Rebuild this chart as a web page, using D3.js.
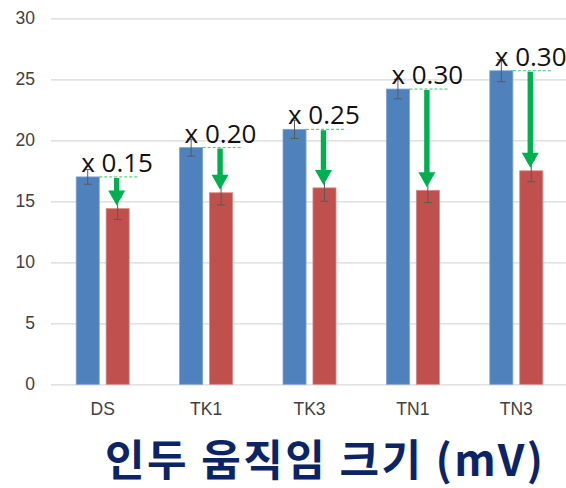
<!DOCTYPE html>
<html>
<head>
    <meta charset="UTF-8">
    <style>
        body { margin: 0; background: #fff; }
        .tick text { font-family: "Liberation Sans", Arial, sans-serif; font-size: 17.5px; fill: #404040; }
        .ann { font-family: "Open Sans", "Noto Sans", sans-serif; font-size: 26px; fill: #111; }
    </style>
</head>
<body>
    <script src="https://cdn.jsdelivr.net/npm/d3@7"></script>
    <script>
        var categories = ["DS", "TK1", "TK3", "TN1", "TN3"];
        var before = [17.0, 19.4, 20.9, 24.2, 25.7];
        var after = [14.4, 15.7, 16.1, 15.9, 17.5];
        var beforeErr = [0.6, 0.7, 0.75, 0.8, 0.9];
        var afterErr = [0.9, 1.0, 1.1, 1.0, 0.9];
        var factors = ["x 0.15", "x 0.20", "x 0.25", "x 0.30", "x 0.30"];
        var yTicks = [0, 5, 10, 15, 20, 25, 30];

        var w = 566, h = 488;
        var svg = d3.select("body").append("svg")
            .attr("width", w)
            .attr("height", h);

        var x = d3.scaleBand().domain(categories).range([51, 568]);
        var x1 = d3.scaleBand().domain(["before", "after"]).range([0, 53]).paddingInner(0.23);
        var groupOff = (x.bandwidth() - 53) / 2;
        var y = d3.scaleLinear().domain([0, 30]).range([384.3, 18.3]);

        // grid + y labels
        var yAxis = d3.axisLeft(y).tickValues(yTicks).tickSize(-(w - 51)).tickPadding(16);
        var gy = svg.append("g")
            .attr("transform", "translate(51,0)")
            .call(yAxis);
        gy.select(".domain").remove();
        gy.selectAll(".tick line").attr("stroke", "#d9d9d9").attr("stroke-width", 1.2);

        var xAxis = d3.axisBottom(x).tickSize(0).tickPadding(18);
        var gx = svg.append("g")
            .attr("transform", "translate(0,384.3)")
            .call(xAxis);
        gx.select(".domain").remove();

        var rows = categories.map((c, i) => ({
            c: c, b: before[i], a: after[i], be: beforeErr[i], ae: afterErr[i], f: factors[i]
        }));

        var bx = d => x(d.c) + groupOff + x1("before");
        var ax = d => x(d.c) + groupOff + x1("after");
        var bw = x1.bandwidth();

        // bars
        svg.selectAll("rect.before").data(rows).enter().append("rect")
            .attr("x", bx).attr("y", d => y(d.b))
            .attr("width", bw).attr("height", d => y(0) - y(d.b))
            .attr("fill", "#4f81bd").attr("stroke", "#7fa3d3").attr("stroke-width", 0.8);
        svg.selectAll("rect.after").data(rows).enter().append("rect")
            .attr("x", ax).attr("y", d => y(d.a))
            .attr("width", bw).attr("height", d => y(0) - y(d.a))
            .attr("fill", "#c0504d").attr("stroke", "#d88987").attr("stroke-width", 0.8);

        // error bars
        function errBar(sel, xf, vf, ef) {
            var g = sel.append("g").attr("stroke", "#5a5a5a").attr("stroke-width", 1);
            g.selectAll("line.v").data(rows).enter().append("line")
                .attr("x1", d => xf(d) + bw / 2).attr("x2", d => xf(d) + bw / 2)
                .attr("y1", d => y(vf(d) + ef(d))).attr("y2", d => y(vf(d) - ef(d)));
            g.selectAll("line.t").data(rows).enter().append("line")
                .attr("x1", d => xf(d) + bw / 2 - 4).attr("x2", d => xf(d) + bw / 2 + 4)
                .attr("y1", d => y(vf(d) + ef(d))).attr("y2", d => y(vf(d) + ef(d)));
            g.selectAll("line.b").data(rows).enter().append("line")
                .attr("x1", d => xf(d) + bw / 2 - 4).attr("x2", d => xf(d) + bw / 2 + 4)
                .attr("y1", d => y(vf(d) - ef(d))).attr("y2", d => y(vf(d) - ef(d)));
        }
        errBar(svg, bx, d => d.b, d => d.be);
        errBar(svg, ax, d => d.a, d => d.ae);

        // dashed guide lines
        svg.selectAll("line.guide").data(rows).enter().append("line")
            .attr("x1", d => bx(d) + bw).attr("x2", d => ax(d) + bw + 10)
            .attr("y1", d => y(d.b)).attr("y2", d => y(d.b))
            .attr("stroke", "#3cc46a").attr("stroke-width", 1)
            .attr("stroke-dasharray", "3,2");

        // arrows
        svg.selectAll("path.arrow").data(rows).enter().append("path")
            .attr("fill", "#00b050")
            .attr("d", d => {
                var cx = ax(d) + bw / 2 - 1;
                var top = y(d.b) + 1, tip = y(d.a) - 3, hh = 15, sw = 2.7, hw = 8.5;
                return "M" + (cx - sw) + "," + top + "L" + (cx + sw) + "," + top +
                    "L" + (cx + sw) + "," + (tip - hh) + "L" + (cx + hw) + "," + (tip - hh) +
                    "L" + cx + "," + tip + "L" + (cx - hw) + "," + (tip - hh) +
                    "L" + (cx - sw) + "," + (tip - hh) + "Z";
            });

        // factor labels
        svg.selectAll("text.ann").data(rows).enter().append("text")
            .attr("class", "ann")
            .attr("x", d => bx(d) + 5)
            .attr("y", d => y(d.b) - 5)
            .text(d => d.f);

        // title
        svg.append("text")
            .attr("x", 105).attr("y", 476)
            .attr("textLength", 438).attr("lengthAdjust", "spacing")
            .attr("font-family", "'Noto Sans CJK KR', sans-serif")
            .attr("font-weight", "bold").attr("font-size", 43)
            .attr("fill", "#0b2466")
            .text("인두 움직임 크기 (mV)");
    </script>
</body>
</html>
